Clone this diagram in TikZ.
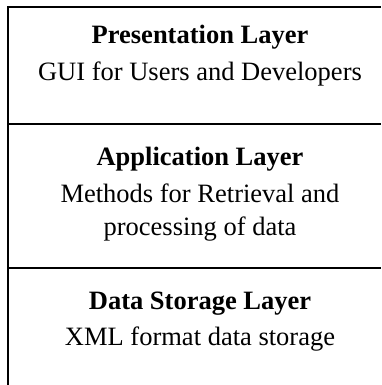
\documentclass[tikz,border=0pt]{standalone}
\usepackage{fontspec}
\setmainfont{Liberation Serif}
\begin{document}
\begin{tikzpicture}[x=1pt, y=-1pt,
    every node/.style={inner sep=0pt, anchor=base},
    title/.style={font=\fontsize{26.5}{31}\selectfont\bfseries},
    desc/.style={font=\fontsize{26.5}{31}\selectfont}]
    \useasboundingbox (0,0) rectangle (381,385);

    % Rahmen (oben und links)
    \draw[line width=2.4pt] (8,385) -- (8,7) -- (381,7);

    % Trennlinien zwischen den Schichten
    \draw[line width=2.4pt] (8,124) -- (381,124);
    \draw[line width=2.4pt] (8,268) -- (381,268);

    % Presentation
    \node[title] (pres) at (200,44) {Presentation Layer};
    \node[desc] (presdesc) at (200,81) {GUI for Users and Developers};

    % Application
    \node[title] (app) at (200,165) {Application Layer};
    \node[desc] (appdesc) at (200,202) {Methods for Retrieval and};
    \node[desc] (appdesc2) at (200,235) {processing of data};

    % Data Storage
    \node[title] (data) at (200,309) {Data Storage Layer};
    \node[desc] (datadesc) at (200,345) {XML format data storage};
\end{tikzpicture}
\end{document}
